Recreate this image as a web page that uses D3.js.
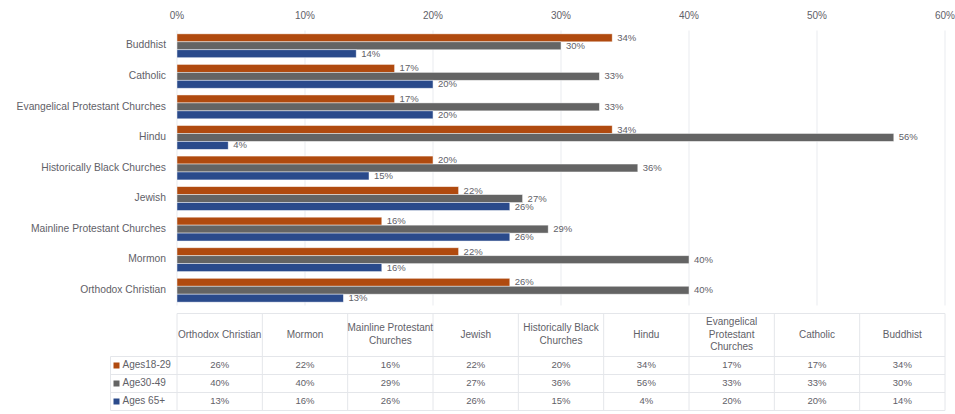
<!DOCTYPE html>
<html>
<head>
<meta charset="utf-8">
<script src="https://cdn.jsdelivr.net/npm/d3@7"></script>
<style>
  body { margin: 0; background: #fff; }
  text { font-family: "Liberation Sans", Arial, sans-serif; fill: #5f6168; }
</style>
</head>
<body>
<div id="chart"></div>
<script>
// categories as listed in the data table (bottom to top in the bar chart)
const categories = ["Orthodox Christian", "Mormon", "Mainline Protestant Churches", "Jewish",
  "Historically Black Churches", "Hindu", "Evangelical Protestant Churches", "Catholic", "Buddhist"];
// header text of the table, broken the way the picture shows it
const headerLines = [["Orthodox Christian"], ["Mormon"], ["Mainline Protestant", "Churches"], ["Jewish"],
  ["Historically Black", "Churches"], ["Hindu"], ["Evangelical", "Protestant", "Churches"], ["Catholic"], ["Buddhist"]];

const series = ["Ages18-29", "Age30-49", "Ages 65+"];
const ages18 = [26, 22, 16, 22, 20, 34, 17, 17, 34];
const ages30 = [40, 40, 29, 27, 36, 56, 33, 33, 30];
const ages65 = [13, 16, 26, 26, 15, 4, 20, 20, 14];
const xTicks = [0, 10, 20, 30, 40, 50, 60];

const colors = ["#b04a0f", "#646464", "#2a4a8b"];
const values = [ages18, ages30, ages65];

const width = 955, height = 414;
const plotLeft = 177, plotRight = 945, plotTop = 30.5, plotBottom = 305.5;

const svg = d3.select("#chart").append("svg")
    .attr("width", width)
    .attr("height", height);

const x = d3.scaleLinear().domain([0, 60]).range([plotLeft, plotRight]);

// Buddhist on top, Orthodox Christian at the bottom
const y = d3.scaleBand()
  .domain(categories.slice().reverse())
  .range([plotTop, plotBottom])
  .paddingInner(0.22)
  .paddingOuter(0.11);

const ySub = d3.scaleBand().domain(series).range([0, y.bandwidth()]);

// gridlines
svg.append("g")
  .selectAll("line")
  .data(xTicks)
  .join("line")
    .attr("x1", d => x(d)).attr("x2", d => x(d))
    .attr("y1", plotTop).attr("y2", plotBottom)
    .attr("stroke", "#e9ebef")
    .attr("stroke-width", 1);

// top axis labels
svg.append("g")
  .selectAll("text")
  .data(xTicks)
  .join("text")
    .attr("x", d => x(d))
    .attr("y", 16)
    .attr("text-anchor", "middle")
    .attr("dominant-baseline", "middle")
    .style("font-size", "10px")
    .text(d => d + "%");

// category labels
svg.append("g")
  .selectAll("text")
  .data(categories)
  .join("text")
    .attr("x", plotLeft - 11)
    .attr("y", d => y(d) + y.bandwidth() / 2)
    .attr("text-anchor", "end")
    .attr("dominant-baseline", "middle")
    .style("font-size", "10.3px")
    .text(d => d);

// bars
const rows = [];
categories.forEach((c, i) => {
  series.forEach((s, j) => rows.push({cat: c, s: s, j: j, v: values[j][i]}));
});

svg.append("g")
  .selectAll("rect")
  .data(rows)
  .join("rect")
    .attr("x", x(0))
    .attr("y", d => y(d.cat) + ySub(d.s))
    .attr("width", d => x(d.v) - x(0))
    .attr("height", ySub.bandwidth())
    .attr("fill", d => colors[d.j])
    .attr("stroke", "#ffffff")
    .attr("stroke-opacity", 0.6)
    .attr("stroke-width", 0.75);

svg.append("g")
  .selectAll("text")
  .data(rows)
  .join("text")
    .attr("x", d => x(d.v) + 5)
    .attr("y", d => y(d.cat) + ySub(d.s) + ySub.bandwidth() / 2 + 0.5)
    .attr("dominant-baseline", "middle")
    .style("font-size", "9.5px")
    .text(d => d.v + "%");

// data table
const colW = (plotRight - plotLeft) / categories.length;
const tTop = 313.5, headH = 43, rowH = 18, legLeft = 110.5;
const table = svg.append("g");
const lineColor = "#e4e6ea";

// horizontal lines
table.append("line")
  .attr("x1", plotLeft).attr("x2", plotRight).attr("y1", tTop).attr("y2", tTop)
  .attr("stroke", lineColor);
[0, 1, 2, 3].forEach(k => {
  table.append("line")
    .attr("x1", legLeft).attr("x2", plotRight)
    .attr("y1", tTop + headH + k * rowH).attr("y2", tTop + headH + k * rowH)
    .attr("stroke", lineColor);
});
// vertical lines
d3.range(categories.length + 1).forEach(k => {
  table.append("line")
    .attr("x1", plotLeft + k * colW).attr("x2", plotLeft + k * colW)
    .attr("y1", tTop).attr("y2", tTop + headH + 3 * rowH)
    .attr("stroke", lineColor);
});
table.append("line")
  .attr("x1", legLeft).attr("x2", legLeft)
  .attr("y1", tTop + headH).attr("y2", tTop + headH + 3 * rowH)
  .attr("stroke", lineColor);

// header texts
categories.forEach((c, i) => {
  const lines = headerLines[i];
  const cx = plotLeft + (i + 0.5) * colW;
  const cy = tTop + headH / 2;
  const t = table.append("text")
    .attr("text-anchor", "middle")
    .style("font-size", "10px");
  lines.forEach((ln, k) => {
    t.append("tspan")
      .attr("x", cx)
      .attr("y", cy + (k - (lines.length - 1) / 2) * 12.5)
      .attr("dominant-baseline", "middle")
      .text(ln);
  });
});

// rows
series.forEach((s, j) => {
  const cy = tTop + headH + (j + 0.5) * rowH;
  table.append("rect")
    .attr("x", legLeft + 3).attr("y", cy - 3)
    .attr("width", 6).attr("height", 6)
    .attr("fill", colors[j]);
  table.append("text")
    .attr("x", legLeft + 12).attr("y", cy)
    .attr("dominant-baseline", "middle")
    .style("font-size", "10px")
    .text(s);
  values[j].forEach((v, i) => {
    table.append("text")
      .attr("x", plotLeft + (i + 0.5) * colW).attr("y", cy)
      .attr("text-anchor", "middle")
      .attr("dominant-baseline", "middle")
      .style("font-size", "9.5px")
      .text(v + "%");
  });
});
</script>
</body>
</html>
